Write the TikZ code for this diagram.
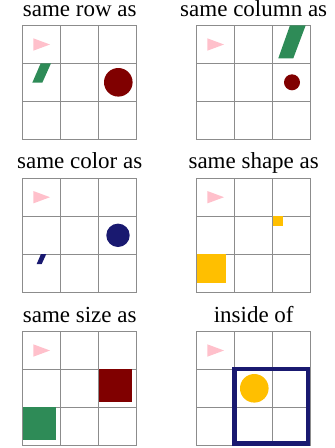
\documentclass[tikz,border=0pt]{standalone}
\usepackage{fontspec}
\setmainfont{Liberation Serif}
\usepackage{tikz}
\usepackage{xcolor}
\usetikzlibrary{calc}
\definecolor{CuePink}{HTML}{FFC0CB}
\definecolor{SeaGreen}{HTML}{2E8B57}
\definecolor{DarkRed}{HTML}{800000}
\definecolor{NightBlue}{HTML}{191970}
\definecolor{Amber}{HTML}{FFBF00}
\definecolor{GridGray}{HTML}{8C8C8C}
\tikzset{
  gridline/.style={draw=GridGray, line width=0.9pt},
  paneltitle/.style={anchor=base, inner sep=0pt, font=\fontsize{23}{28}\selectfont},
  cuemark/.style={fill=CuePink},
  greenmark/.style={fill=SeaGreen},
  redmark/.style={fill=DarkRed},
  bluemark/.style={fill=NightBlue},
  ambermark/.style={fill=Amber},
  outlinebox/.style={draw=NightBlue, line width=4.5pt}
}
% 3x3 board with the pink cue triangle in the top-left cell
\newcommand{\boardgrid}{%
  \draw[gridline] (0,0) rectangle (114,114);
  \foreach \k in {38,76} {
    \draw[gridline] (\k,0) -- (\k,114);
    \draw[gridline] (0,\k) -- (114,\k);
  }
  \fill[cuemark] (10.6,13) -- (27.3,19.2) -- (10.6,25.4) -- cycle;
}

\begin{document}
\begin{tikzpicture}[x=1pt, y=-1pt]
  \useasboundingbox (0,0) rectangle (335,448);

  % same row
  \begin{scope}[shift={(22.7,25.3)}]
    \node[paneltitle] (trow) at (57,-8.6) {same row as};
    \boardgrid
    \fill[greenmark] (18,38) -- (28.3,38) -- (19.6,57.4) -- (9.6,57.4) -- cycle;
    \fill[redmark] (95.6,57) circle (14.3);
  \end{scope}

  % same column
  \begin{scope}[shift={(196.7,25.3)}]
    \node[paneltitle] (tcol) at (57,-8.6) {same column as};
    \boardgrid
    \fill[greenmark] (93.3,0) -- (109,0) -- (96.6,33) -- (81.6,33) -- cycle;
    \fill[redmark] (95.3,57) circle (8);
  \end{scope}

  % same color
  \begin{scope}[shift={(22.7,178)}]
    \node[paneltitle] (tcolor) at (57,-9.3) {same color as};
    \boardgrid
    \fill[bluemark] (18.3,76) -- (23.6,76) -- (19,86) -- (14,86) -- cycle;
    \fill[bluemark] (95.3,57.3) circle (11.7);
  \end{scope}

  % same shape
  \begin{scope}[shift={(196.7,178)}]
    \node[paneltitle] (tshape) at (57,-9.3) {same shape as};
    \boardgrid
    \fill[ambermark] (76.6,38.3) rectangle (86.3,48);
    \fill[ambermark] (0,76) rectangle (29.3,105.3);
  \end{scope}

  % same size
  \begin{scope}[shift={(22.7,331.3)}]
    \node[paneltitle] (tsize) at (57,-9.3) {same size as};
    \boardgrid
    \fill[redmark] (76.3,37.7) rectangle (109.6,71);
    \fill[greenmark] (0,75.7) rectangle (33.3,109);
  \end{scope}

  % inside
  \begin{scope}[shift={(196.7,331.3)}]
    \node[paneltitle] (tinside) at (57,-9.3) {inside of};
    \boardgrid
    \draw[outlinebox] (38,37.5) rectangle (111.3,112);
    \fill[ambermark] (57.6,57) circle (14.3);
  \end{scope}
\end{tikzpicture}
\end{document}
